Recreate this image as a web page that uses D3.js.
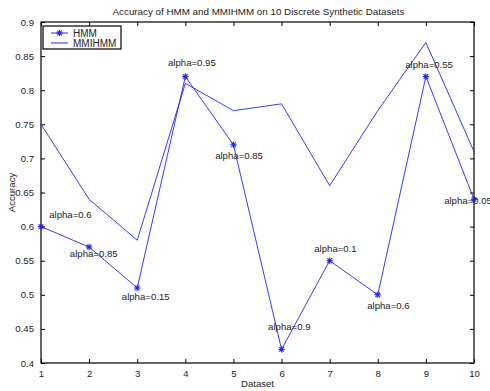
<!DOCTYPE html>
<html>
<head>
<meta charset="utf-8">
<script src="https://cdn.jsdelivr.net/npm/d3@7"></script>
<style>
  html, body { margin: 0; padding: 0; background: #fff; }
  svg { display: block; font-family: "Liberation Sans", Arial, sans-serif; }
</style>
</head>
<body>
<div id="chart"></div>
<script>
/* Accuracy of HMM and MMIHMM on 10 synthetic datasets (MATLAB-style line plot) */
var datasets = [1, 2, 3, 4, 5, 6, 7, 8, 9, 10];
var hmm = [0.60, 0.57, 0.51, 0.82, 0.72, 0.42, 0.55, 0.50, 0.82, 0.64];
var mmihmm = [0.75, 0.64, 0.58, 0.81, 0.77, 0.78, 0.66, 0.77, 0.87, 0.71];
var alphaLabels = ["alpha=0.6", "alpha=0.85", "alpha=0.15", "alpha=0.95", "alpha=0.85",
                   "alpha=0.9", "alpha=0.1", "alpha=0.6", "alpha=0.55", "alpha=0.05"];
// label anchors in data units (like text(x, y, ...) calls)
var labelX = [1.17, 1.60, 2.68, 3.64, 4.62, 5.72, 6.68, 7.78, 8.57, 9.38];
var labelY = [0.618, 0.560, 0.498, 0.841, 0.704, 0.453, 0.567, 0.484, 0.837, 0.638];
var yTicks = [0.4, 0.45, 0.5, 0.55, 0.6, 0.65, 0.7, 0.75, 0.8, 0.85, 0.9];
var xTicks = [1, 2, 3, 4, 5, 6, 7, 8, 9, 10];

(function () {
  "use strict";
  var W = 490, H = 391;
  var ml = 41, mr = 16, mt = 22, mb = 28;
  var iw = W - ml - mr, ih = H - mt - mb;
  var blue = "#2222ff";
  var fs = "9.6px";

  var svg = d3.select("#chart").append("svg").attr("width", W).attr("height", H);
  var g = svg.append("g").attr("transform", "translate(" + ml + "," + mt + ")");

  var x = d3.scaleLinear().domain([1, 10]).range([0, iw]);
  var y = d3.scaleLinear().domain([0.4, 0.9]).range([ih, 0]);

  // axes: ticks point inward, on all four sides
  var fmt = function (d) { return String(+d.toFixed(2)); };
  var axB = g.append("g").attr("transform", "translate(0," + ih + ")")
    .call(d3.axisBottom(x).tickValues(xTicks).tickSizeInner(-4).tickSizeOuter(0).tickPadding(7).tickFormat(fmt));
  var axT = g.append("g")
    .call(d3.axisTop(x).tickValues(xTicks).tickSizeInner(-4).tickSizeOuter(0).tickFormat(""));
  var axL = g.append("g")
    .call(d3.axisLeft(y).tickValues(yTicks).tickSizeInner(-4).tickSizeOuter(0).tickPadding(7).tickFormat(fmt));
  var axR = g.append("g").attr("transform", "translate(" + iw + ",0)")
    .call(d3.axisRight(y).tickValues(yTicks).tickSizeInner(-4).tickSizeOuter(0).tickFormat(""));
  [axB, axT, axL, axR].forEach(function (a) {
    a.selectAll("path.domain").remove();
    a.selectAll("line").attr("stroke", "#000").attr("stroke-width", 1);
    a.selectAll("text").attr("fill", "#222").style("font-size", fs);
  });
  g.append("rect").attr("width", iw).attr("height", ih)
    .attr("fill", "none").attr("stroke", "#000").attr("stroke-width", 1.2);

  // lines
  var line = function (vals) {
    return d3.line().x(function (d, i) { return x(datasets[i]); }).y(function (d) { return y(d); })(vals);
  };
  g.append("path").attr("d", line(mmihmm)).attr("fill", "none").attr("stroke", blue).attr("stroke-width", 0.9);
  g.append("path").attr("d", line(hmm)).attr("fill", "none").attr("stroke", blue).attr("stroke-width", 0.9);

  // asterisk markers
  function star(sel, cx, cy, r) {
    var s = sel.append("g").attr("transform", "translate(" + cx + "," + cy + ")");
    var d = r * 0.72;
    [[-r, 0, r, 0], [0, -r, 0, r], [-d, -d, d, d], [-d, d, d, -d]].forEach(function (p) {
      s.append("line").attr("x1", p[0]).attr("y1", p[1]).attr("x2", p[2]).attr("y2", p[3])
        .attr("stroke", blue).attr("stroke-width", 1.1);
    });
  }
  hmm.forEach(function (v, i) { star(g, x(datasets[i]), y(v), 3.2); });

  // alpha annotations
  g.selectAll("text.alpha").data(alphaLabels).enter().append("text")
    .attr("class", "alpha")
    .attr("x", function (d, i) { return x(labelX[i]); })
    .attr("y", function (d, i) { return y(labelY[i]); })
    .attr("dy", "0.35em")
    .attr("fill", "#222").style("font-size", fs)
    .text(function (d) { return d; });

  // legend
  var leg = g.append("g").attr("transform", "translate(2,4)");
  leg.append("rect").attr("width", 78).attr("height", 23)
    .attr("fill", "#fff").attr("stroke", "#000").attr("stroke-width", 1.2);
  leg.append("line").attr("x1", 8).attr("x2", 25).attr("y1", 7).attr("y2", 7).attr("stroke", blue);
  star(leg, 16.5, 7, 3.2);
  leg.append("text").attr("x", 30).attr("y", 7).attr("dy", "0.35em")
    .attr("fill", "#222").style("font-size", "10px").text("HMM");
  leg.append("line").attr("x1", 8).attr("x2", 25).attr("y1", 17).attr("y2", 17).attr("stroke", blue);
  leg.append("text").attr("x", 30).attr("y", 17).attr("dy", "0.35em")
    .attr("fill", "#222").style("font-size", "10px").text("MMIHMM");

  // titles
  svg.append("text").attr("x", ml + iw / 2 + 1).attr("y", 15).attr("text-anchor", "middle")
    .attr("fill", "#222").style("font-size", "9.8px")
    .text("Accuracy of HMM and MMIHMM on 10 Discrete Synthetic Datasets");
  svg.append("text").attr("x", ml + iw / 2).attr("y", 387).attr("text-anchor", "middle")
    .attr("fill", "#222").style("font-size", fs).text("Dataset");
  svg.append("text").attr("transform", "translate(15," + (mt + ih / 2) + ") rotate(-90)")
    .attr("text-anchor", "middle").attr("fill", "#222").style("font-size", fs).text("Accuracy");
})();
</script>
</body>
</html>
